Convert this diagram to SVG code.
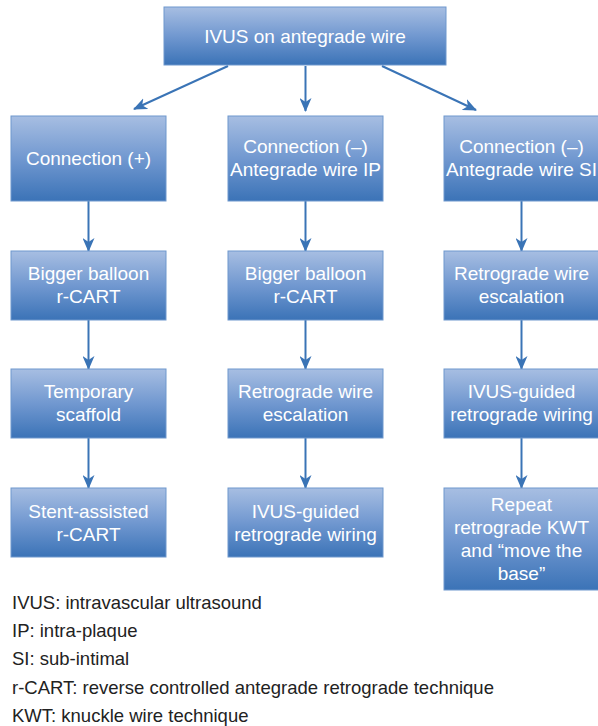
<svg xmlns="http://www.w3.org/2000/svg" width="598" height="726" viewBox="0 0 598 726">
  <defs>
    <linearGradient id="boxFill" x1="0" y1="0" x2="0" y2="1">
      <stop offset="0" stop-color="#a7bee2"/>
      <stop offset="0.5" stop-color="#7198d0"/>
      <stop offset="1" stop-color="#3b73b7"/>
    </linearGradient>
    <marker id="arrow" markerUnits="userSpaceOnUse" markerWidth="14" markerHeight="12" viewBox="0 0 14 12" refX="13" refY="6" orient="auto">
      <path d="M0,0 L14,6 L0,12 L4,6 z" fill="#3a74b6"/>
    </marker>
  </defs>
  <style>
    .box { fill: url(#boxFill); stroke: #6e98cd; stroke-width: 1; }
    .lbl { font-family: "Liberation Sans", Arial, sans-serif; font-size: 19px; fill: #ffffff; text-anchor: middle; }
    .link { stroke: #3a74b6; stroke-width: 2; fill: none; marker-end: url(#arrow); }
    .legend { font-family: "Liberation Sans", Arial, sans-serif; font-size: 18.5px; fill: #222222; }
  </style>

  <!-- connectors -->
  <g id="connectors">
    <line class="link" x1="228" y1="66" x2="134" y2="109"/>
    <line class="link" x1="305.5" y1="66" x2="305.5" y2="111"/>
    <line class="link" x1="382" y1="66" x2="476" y2="110"/>

    <line class="link" x1="88.5" y1="201" x2="88.5" y2="251"/>
    <line class="link" x1="88.5" y1="320" x2="88.5" y2="369"/>
    <line class="link" x1="88.5" y1="438" x2="88.5" y2="488"/>

    <line class="link" x1="305.5" y1="201" x2="305.5" y2="251"/>
    <line class="link" x1="305.5" y1="320" x2="305.5" y2="369"/>
    <line class="link" x1="305.5" y1="438" x2="305.5" y2="488"/>

    <line class="link" x1="521.5" y1="201" x2="521.5" y2="251"/>
    <line class="link" x1="521.5" y1="320" x2="521.5" y2="369"/>
    <line class="link" x1="521.5" y1="438" x2="521.5" y2="488"/>
  </g>

  <!-- root -->
  <g id="root">
    <rect class="box" x="164" y="7" width="282" height="58"/>
    <text class="lbl" x="305" y="43">IVUS on antegrade wire</text>
  </g>

  <!-- left column -->
  <g id="conn-pos">
    <rect class="box" x="11" y="116" width="155" height="85"/>
    <text class="lbl" x="88.5" y="165">Connection (+)</text>
  </g>
  <g id="left-balloon">
    <rect class="box" x="11" y="251" width="155" height="69"/>
    <text class="lbl" x="88.5" y="280">Bigger balloon</text>
    <text class="lbl" x="88.5" y="303">r-CART</text>
  </g>
  <g id="left-scaffold">
    <rect class="box" x="11" y="369" width="155" height="69"/>
    <text class="lbl" x="88.5" y="398">Temporary</text>
    <text class="lbl" x="88.5" y="421">scaffold</text>
  </g>
  <g id="left-stent">
    <rect class="box" x="11" y="488" width="155" height="69"/>
    <text class="lbl" x="88.5" y="518">Stent-assisted</text>
    <text class="lbl" x="88.5" y="541">r-CART</text>
  </g>

  <!-- middle column -->
  <g id="conn-neg-ip">
    <rect class="box" x="228" y="116" width="155" height="85"/>
    <text class="lbl" x="305.5" y="153">Connection (–)</text>
    <text class="lbl" x="305.5" y="176">Antegrade wire IP</text>
  </g>
  <g id="mid-balloon">
    <rect class="box" x="228" y="251" width="155" height="69"/>
    <text class="lbl" x="305.5" y="280">Bigger balloon</text>
    <text class="lbl" x="305.5" y="303">r-CART</text>
  </g>
  <g id="mid-escalation">
    <rect class="box" x="228" y="369" width="155" height="69"/>
    <text class="lbl" x="305.5" y="398">Retrograde wire</text>
    <text class="lbl" x="305.5" y="421">escalation</text>
  </g>
  <g id="mid-ivus">
    <rect class="box" x="228" y="488" width="155" height="69"/>
    <text class="lbl" x="305.5" y="518">IVUS-guided</text>
    <text class="lbl" x="305.5" y="541">retrograde wiring</text>
  </g>

  <!-- right column -->
  <g id="conn-neg-si">
    <rect class="box" x="444" y="116" width="155" height="85"/>
    <text class="lbl" x="521.5" y="153">Connection (–)</text>
    <text class="lbl" x="521.5" y="176">Antegrade wire SI</text>
  </g>
  <g id="right-escalation">
    <rect class="box" x="444" y="251" width="155" height="69"/>
    <text class="lbl" x="521.5" y="280">Retrograde wire</text>
    <text class="lbl" x="521.5" y="303">escalation</text>
  </g>
  <g id="right-ivus">
    <rect class="box" x="444" y="369" width="155" height="69"/>
    <text class="lbl" x="521.5" y="398">IVUS-guided</text>
    <text class="lbl" x="521.5" y="421">retrograde wiring</text>
  </g>
  <g id="right-kwt">
    <rect class="box" x="444" y="488" width="155" height="102"/>
    <text class="lbl" x="521.5" y="511">Repeat</text>
    <text class="lbl" x="521.5" y="534">retrograde KWT</text>
    <text class="lbl" x="521.5" y="557">and “move the</text>
    <text class="lbl" x="521.5" y="580">base”</text>
  </g>

  <!-- abbreviations -->
  <g id="legend">
    <text class="legend" x="12" y="609">IVUS: intravascular ultrasound</text>
    <text class="legend" x="12" y="637">IP: intra-plaque</text>
    <text class="legend" x="12" y="665">SI: sub-intimal</text>
    <text class="legend" x="12" y="694">r-CART: reverse controlled antegrade retrograde technique</text>
    <text class="legend" x="12" y="722">KWT: knuckle wire technique</text>
  </g>
</svg>
